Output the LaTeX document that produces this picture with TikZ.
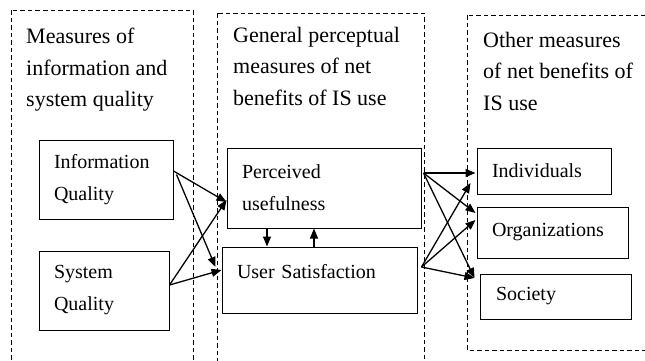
\documentclass[tikz,border=0pt]{standalone}
\usepackage{fontspec}
\setmainfont{Liberation Serif}
\usetikzlibrary{arrows.meta}

\newcommand{\tamanho}{\fontsize{20}{32}\selectfont}
\newcommand{\tamtitulo}{\fontsize{22}{31.5}\selectfont}

\begin{document}
\begin{tikzpicture}[x=1pt, y=-1pt,
    grupo/.style={draw, dash pattern=on 4.5pt off 3pt, line width=1pt},
    caixa/.style={draw, line width=1pt, inner xsep=15pt, inner ysep=0pt, align=left, font=\tamanho},
    titulo/.style={anchor=north west, inner sep=0pt, align=left, font=\tamtitulo},
    seta/.style={line width=1.3pt, -{Triangle[length=10pt,width=8pt]}}]
    \useasboundingbox (0,0) rectangle (645,360);
    \clip (0,0) rectangle (645,360);

    % Grupos tracejados (abertos nas bordas)
    \draw[grupo] (11,10) rectangle (193,375);
    \draw[grupo] (217,13) rectangle (424,375);
    \draw[grupo] (467,15) rectangle (660,350);

    % Titulos dos grupos
    \node[titulo] (t1) at (26,28) {Measures of\\information and\\system quality};
    \node[titulo] (t2) at (233,27) {General perceptual\\measures of net\\benefits of IS use};
    \node[titulo] (t3) at (483,32) {Other measures\\of net benefits of\\IS use};

    % Caixas da esquerda
    \node[caixa, minimum width=134pt, minimum height=79pt, text width=104pt] (iq) at (106,179.5) {Information\\Quality};
    \node[caixa, minimum width=130pt, minimum height=79pt, text width=100pt] (sq) at (104,290.5) {System\\Quality};

    % Caixas do meio
    \node[caixa, minimum width=194pt, minimum height=80pt, text width=164pt] (pu) at (324,188) {Perceived\\usefulness};
    \node[caixa, minimum width=195pt, minimum height=66pt, text width=165pt, text depth=18pt] (us) at (319.5,280) {User Satisfaction};

    % Caixas da direita
    \node[caixa, minimum width=134pt, minimum height=46pt, text width=104pt] (ind) at (544,171) {Individuals};
    \node[caixa, minimum width=151pt, minimum height=51pt, text width=121pt] (org) at (552.5,232.5) {Organizations};
    \node[caixa, minimum width=151pt, minimum height=45pt, text width=119pt, inner xsep=16pt] (soc) at (555.5,296.5) {Society};

    % Setas da esquerda para o meio
    \draw[seta] ([yshift=8.5pt]iq.east) -- ([yshift=-14pt]pu.west);
    \draw[seta] ([xshift=3pt,yshift=5pt]iq.east) -- ([xshift=-6pt,yshift=13pt]us.west);
    \draw[seta] ([yshift=5.5pt]sq.east) -- ([yshift=-12pt]pu.west);
    \draw[seta] ([yshift=5.5pt]sq.east) -- ([yshift=10pt]us.west);

    % Setas entre as caixas do meio
    \draw[seta] ([xshift=-57pt]pu.south) -- ([xshift=-52.5pt]us.north);
    \draw[seta] ([xshift=-5.5pt]us.north) -- ([xshift=-10pt]pu.south);

    % Setas do meio para a direita
    \draw[seta] ([xshift=2pt,yshift=15pt]pu.east) -- ([xshift=-1pt,yshift=-2pt]ind.west);
    \draw[seta] ([xshift=2pt,yshift=15pt]pu.east) -- ([xshift=-1pt,yshift=19.5pt]org.west);
    \draw[seta] ([xshift=2pt,yshift=15pt]pu.east) -- ([xshift=-5pt,yshift=18.5pt]soc.west);
    \draw[seta] ([xshift=4pt,yshift=13pt]us.east) -- ([xshift=-6pt,yshift=-12pt]ind.west);
    \draw[seta] ([xshift=4pt,yshift=13pt]us.east) -- ([xshift=-1pt,yshift=12.5pt]org.west);
    \draw[seta] ([xshift=4pt,yshift=13pt]us.east) -- ([xshift=-5pt,yshift=18.5pt]soc.west);
\end{tikzpicture}
\end{document}
